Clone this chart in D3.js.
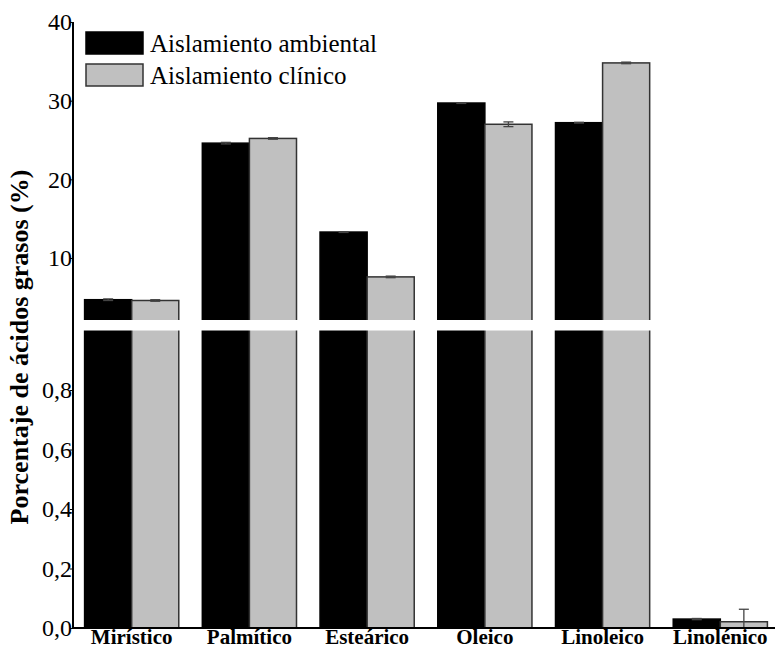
<!DOCTYPE html>
<html>
<head>
<meta charset="utf-8">
<script src="https://cdn.jsdelivr.net/npm/d3@7"></script>
<style>
  html, body { margin: 0; padding: 0; background: #fff; }
  svg text { font-family: 'Liberation Serif', 'Times New Roman', Times, 'DejaVu Serif', serif !important; }
</style>
</head>
<body>
<svg id="chart" width="775" height="648"></svg>
<script>
// ---- data ----
const categories = ["Mirístico", "Palmítico", "Esteárico", "Oleico", "Linoleico", "Linolénico"];
const seriesNames = ["Aislamiento ambiental", "Aislamiento clínico"];
const ambiental = [4.7, 24.6, 13.3, 29.7, 27.2, 0.030];
const clinico = [4.6, 25.2, 7.6, 27.0, 34.8, 0.021];
const ambientalErr = [0.1, 0.1, 0.05, 0.05, 0.05, 0.002];
const clinicoErr = [0.1, 0.1, 0.1, 0.3, 0.1, 0.042];
const yTickValues = [0, 0.2, 0.4, 0.6, 0.8, 10, 20, 30, 40];
const yTickLabels = ["0,0", "0,2", "0,4", "0,6", "0,8", "10", "20", "30", "40"];
const seriesColors = ["#000000", "#c0c0c0"];
const seriesStroke = ["#000000", "#333333"];

const FONT = "'Liberation Serif', 'Times New Roman', Times, 'DejaVu Serif', serif";
const svg = d3.select("#chart");
const axisX = 73, baseY = 628, topY = 22, rightX = 775;
const gapTop = 320, gapBottom = 330.5;

// broken (piecewise) y scale: lower segment 0..1, upper segment ~2.12..40
const y = d3.scaleLinear()
  .domain([0, 1, 2.12, 40])
  .range([baseY, gapBottom, gapTop, topY]);

const x0 = d3.scaleBand().domain(categories).range([axisX + 1, 778])
  .paddingInner(0.2).paddingOuter(0.09);
const x1 = d3.scaleBand().domain([0, 1]).range([0, x0.bandwidth()]);

const series = [ambiental, clinico];
const errs = [ambientalErr, clinicoErr];

const rows = [];
categories.forEach((c, i) => {
  series.forEach((s, k) => rows.push({ c, k, v: s[i], e: errs[k][i] }));
});

// bars
svg.append("g").selectAll("rect").data(rows).join("rect")
  .attr("x", d => x0(d.c) + x1(d.k))
  .attr("y", d => y(d.v))
  .attr("width", x1.bandwidth())
  .attr("height", d => baseY - y(d.v))
  .attr("fill", d => seriesColors[d.k])
  .attr("stroke", d => seriesStroke[d.k])
  .attr("stroke-width", 1.5);

// error bars
const eg = svg.append("g").attr("stroke", "#444").attr("stroke-width", 1.3);
rows.forEach(d => {
  const cx = x0(d.c) + x1(d.k) + x1.bandwidth() / 2;
  const y1 = y(d.v + d.e), y2 = y(Math.max(0, d.v - d.e));
  eg.append("line").attr("x1", cx).attr("x2", cx).attr("y1", y1).attr("y2", y2);
  eg.append("line").attr("x1", cx - 5).attr("x2", cx + 5).attr("y1", y1).attr("y2", y1);
  eg.append("line").attr("x1", cx - 5).attr("x2", cx + 5).attr("y1", y2).attr("y2", y2);
});

// axis break band
svg.append("rect")
  .attr("x", axisX + 2).attr("y", gapTop)
  .attr("width", rightX - axisX).attr("height", gapBottom - gapTop)
  .attr("fill", "#fff");

// y axis
const yAxis = d3.axisLeft(y)
  .tickValues(yTickValues)
  .tickFormat((d, i) => yTickLabels[i])
  .tickSize(3).tickSizeOuter(0);
const gy = svg.append("g").attr("transform", `translate(${axisX},0)`).call(yAxis)
  .attr("font-family", FONT);
gy.select(".domain").remove();
gy.selectAll("text").attr("font-size", 24).attr("fill", "#000")
  .style("font-family", FONT)
  .attr("x", -1);
gy.selectAll("line").attr("stroke", "#000");
svg.append("line").attr("x1", axisX).attr("x2", axisX).attr("y1", topY).attr("y2", baseY)
  .attr("stroke", "#000").attr("stroke-width", 2);

// x axis
const xAxis = d3.axisBottom(x0).tickSize(0).tickSizeOuter(0);
const gx = svg.append("g").attr("transform", `translate(0,${baseY})`).call(xAxis)
  .attr("font-family", FONT);
gx.select(".domain").remove();
gx.selectAll("text").attr("font-size", 21).attr("font-weight", "bold").attr("fill", "#000")
  .style("font-family", FONT)
  .attr("dy", "0.71em").attr("y", 1);
svg.append("line").attr("x1", axisX).attr("x2", rightX).attr("y1", baseY).attr("y2", baseY)
  .attr("stroke", "#000").attr("stroke-width", 2);

// y title
svg.append("text")
  .attr("transform", "translate(28,347) rotate(-90)")
  .attr("text-anchor", "middle")
  .style("font-family", FONT)
  .attr("font-size", 26).attr("font-weight", "bold")
  .text("Porcentaje de ácidos grasos (%)");

// legend
const lg = svg.append("g");
seriesNames.forEach((name, k) => {
  const ly = 32 + k * 32;
  lg.append("rect").attr("x", 86).attr("y", ly).attr("width", 57).attr("height", 22)
    .attr("fill", seriesColors[k]).attr("stroke", seriesStroke[k]).attr("stroke-width", 1.5);
  lg.append("text").attr("x", 150).attr("y", ly + 20).attr("font-size", 25)
    .style("font-family", FONT).text(name);
});
</script>
</body>
</html>
